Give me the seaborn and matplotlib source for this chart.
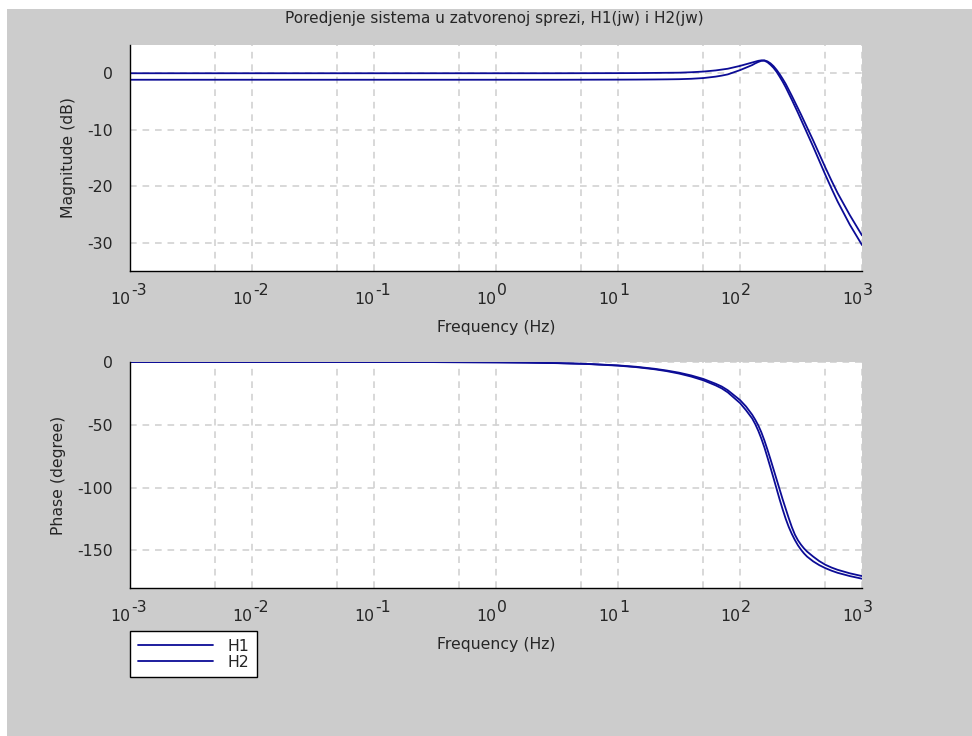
import numpy as np
import pandas as pd
import matplotlib
matplotlib.use("Agg")
import matplotlib.pyplot as plt
import seaborn as sns

# vrijednosti ocitane sa slike (log10 frekvencije u Hz)
log_f = [-3, -2, -1, -0.5, 0, 0.25, 0.5, 0.75, 1.0, 1.15, 1.3, 1.4, 1.5, 1.6, 1.7, 1.8, 1.85, 1.9,
         2.0, 2.05, 2.1, 2.125, 2.15, 2.175, 2.2, 2.225, 2.25, 2.275, 2.3, 2.325, 2.35, 2.375,
         2.4, 2.425, 2.45, 2.475, 2.5, 2.525, 2.55, 2.6, 2.65, 2.7, 2.75, 2.8, 2.9, 3.0]

mag_h1 = [0.0, 0.0, 0.0, 0.0, 0.0, 0.0, 0.0, 0.01, 0.02, 0.03, 0.06, 0.08, 0.1, 0.18, 0.3, 0.5, 0.65, 0.8,
          1.3, 1.6, 1.9, 2.05, 2.2, 2.28, 2.28, 2.1, 1.75, 1.25, 0.6, -0.15, -1.0, -1.9,
          -2.95, -4.0, -5.1, -6.2, -7.3, -8.45, -9.6, -11.9, -14.3, -16.7, -19.0, -21.2, -25.1, -28.7]
mag_h2 = [-1.15, -1.15, -1.15, -1.15, -1.15, -1.15, -1.15, -1.14, -1.13, -1.12, -1.1, -1.08, -1.05, -0.98, -0.85, -0.6, -0.42, -0.2,
          0.55, 1.0, 1.45, 1.75, 2.0, 2.2, 2.22, 1.95, 1.5, 0.95, 0.25, -0.6, -1.5, -2.5,
          -3.6, -4.7, -5.85, -7.0, -8.2, -9.4, -10.6, -13.0, -15.5, -18.0, -20.4, -22.7, -26.8, -30.4]

phase_h1 = [0.0, 0.0, -0.03, -0.08, -0.27, -0.47, -0.85, -1.5, -2.7, -3.8, -5.4, -6.8, -8.5, -10.7, -13.5, -17.3, -19.5, -22.5,
            -30.3, -35.5, -42.0, -46.0, -50.5, -56.0, -62.5, -69.8, -77.5, -85.5, -93.5, -101.5, -109.5, -117.0,
            -124.5, -131.5, -137.5, -142.0, -145.5, -148.5, -151.0, -155.0, -158.6, -161.5, -163.7, -165.5, -168.3, -170.5]
phase_h2 = [0.0, 0.0, -0.03, -0.09, -0.29, -0.5, -0.92, -1.6, -2.9, -4.1, -5.8, -7.3, -9.2, -11.6, -14.6, -18.6, -21.0, -24.2,
            -32.7, -38.5, -45.0, -49.5, -54.8, -61.0, -68.0, -76.0, -84.2, -92.5, -101.0, -109.5, -117.5, -125.0,
            -131.5, -137.0, -141.8, -146.0, -149.5, -152.5, -155.0, -158.8, -161.8, -164.2, -166.2, -167.9, -170.5, -172.6]

systems = ["H1", "H2"]
title = "Poredjenje sistema u zatvorenoj sprezi, H1(jw) i H2(jw)"
x_exp = [-3, -2, -1, 0, 1, 2, 3]

freq = 10.0 ** np.array(log_f)
n = len(freq)
df = pd.DataFrame({
    "f": np.concatenate([freq, freq]),
    "mag": mag_h1 + mag_h2,
    "phase": phase_h1 + phase_h2,
    "sys": [systems[0]] * n + [systems[1]] * n,
})

line_col = "#0c0c96"
grid_col = "#d2d2d2"
W, H = 972, 736
fs = 11.3

sns.set_style("white")
plt.rcParams["font.family"] = ["DejaVu Sans"]
plt.rcParams["axes.unicode_minus"] = False

fig = plt.figure(figsize=(9.72, 7.36), dpi=100, facecolor="white")
fig.add_artist(plt.Rectangle((7 / W, 0), 1, 1 - 9 / H, transform=fig.transFigure,
                             facecolor="#cccccc", edgecolor="none", zorder=-10))

ax1 = fig.add_axes([130 / W, 1 - 271 / H, 732 / W, 226 / H])
ax2 = fig.add_axes([130 / W, 1 - 588 / H, 732 / W, 226 / H])

sns.lineplot(data=df, x="f", y="mag", hue="sys", palette=[line_col, line_col],
             sort=False, estimator=None, linewidth=1.3, ax=ax1, legend=False)
sns.lineplot(data=df, x="f", y="phase", hue="sys", palette=[line_col, line_col],
             sort=False, estimator=None, linewidth=1.3, ax=ax2)


def style_axis(ax, ylim, yticks, yminor, ylabel, ylab_x):
    ax.set_xscale("log")
    ax.set_xlim(1e-3, 1e3)
    ax.set_ylim(*ylim)
    ax.set_facecolor("white")
    for s in ["top", "right"]:
        ax.spines[s].set_visible(False)
    for s in ["left", "bottom"]:
        ax.spines[s].set_color("black")
        ax.spines[s].set_linewidth(1.0)

    xt = [10.0 ** k for k in x_exp]
    xminor = [5 * 10.0 ** k for k in x_exp[:-1]]
    ax.set_xticks(xt)
    ax.set_xticklabels(["10"] * len(xt), fontsize=fs)
    ax.set_xticks(xminor, minor=True)
    ax.xaxis.set_minor_formatter(plt.NullFormatter())
    for lab in ax.get_xticklabels():
        lab.set_horizontalalignment("right")
    ax.tick_params(axis="x", which="major", direction="inout", length=10, width=1, pad=10)
    ax.tick_params(axis="x", which="minor", direction="inout", length=7, width=1)
    for k in x_exp:
        ax.annotate(str(k), xy=(10.0 ** k, 0), xycoords=("data", "axes fraction"),
                    xytext=(1, -20), textcoords="offset pixels",
                    ha="left", va="center", fontsize=fs)

    ax.set_yticks(yticks)
    ax.set_yticklabels([str(v) for v in yticks], fontsize=fs)
    ax.set_yticks(yminor, minor=True)
    ax.tick_params(axis="y", which="major", direction="out", length=4.5, width=1, pad=8)
    ax.tick_params(axis="y", which="minor", direction="out", length=4.5, width=1)

    for x in xt[1:] + xminor:
        ax.axvline(x, color=grid_col, linestyle=(0, (4, 3.5)), linewidth=1.2, zorder=0)
    for y in yticks:
        ax.axhline(y, color=grid_col, linestyle=(0, (4, 3.5)), linewidth=1.2, zorder=0)

    ax.set_xlabel("Frequency (Hz)", fontsize=fs)
    ax.xaxis.set_label_coords(0.5, -0.25)
    ax.xaxis.label.set_va("center")
    ax.set_ylabel(ylabel, fontsize=fs)
    ax.yaxis.set_label_coords(ylab_x, 0.5)
    ax.yaxis.label.set_va("center")


style_axis(ax1, (-35, 5), [0, -10, -20, -30], [5, -5, -15, -25, -35],
           "Magnitude (dB)", (68 - 130) / 732)
style_axis(ax2, (-180, 0), [0, -50, -100, -150], [-25, -75, -125, -175],
           "Phase (degree)", (58 - 130) / 732)

fig.text(494 / W, 1 - 19 / H, title, ha="center", va="center", fontsize=11)

handles, labels = ax2.get_legend_handles_labels()
leg = ax2.legend(handles, labels, loc="upper left", bbox_to_anchor=(130 / W, 1 - 631 / H),
                 bbox_transform=fig.transFigure, frameon=True, fancybox=False,
                 edgecolor="black", facecolor="white", framealpha=1, fontsize=fs,
                 handlelength=4.8, borderaxespad=0, borderpad=0.5, labelspacing=0.05,
                 handletextpad=0.9)
leg.get_frame().set_linewidth(1.0)
leg.set_title(None)

fig.savefig("out.png", dpi=100, facecolor=fig.get_facecolor())
